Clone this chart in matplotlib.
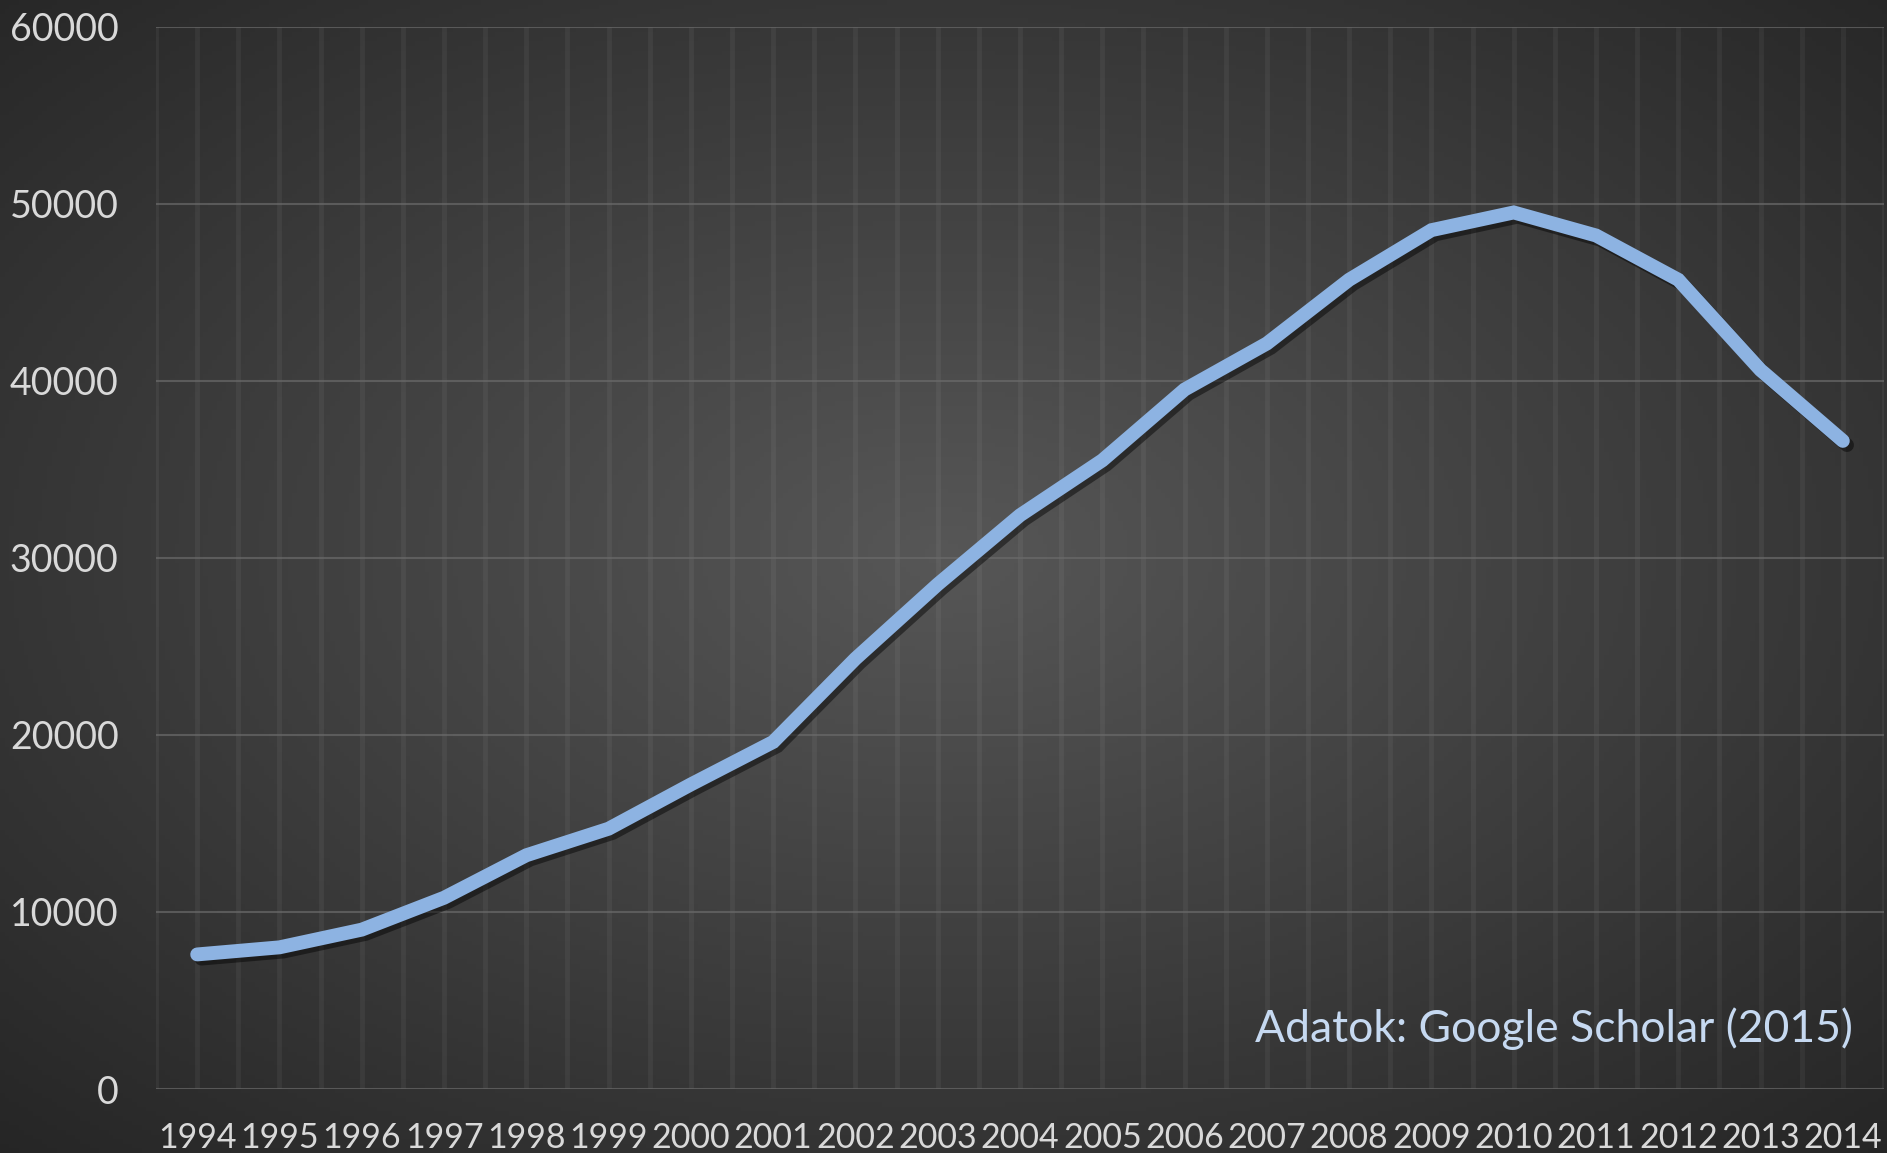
import matplotlib
matplotlib.use("Agg")
import matplotlib.pyplot as plt
import matplotlib.patheffects as pe
import numpy as np

years = [str(y) for y in range(1994, 2015)]
counts = [7600, 8000, 9000, 10800, 13200, 14700, 17200, 19600, 24300, 28500,
          32400, 35500, 39500, 42100, 45700, 48500, 49500, 48200, 45700, 40600, 36600]
yticks = [0, 10000, 20000, 30000, 40000, 50000, 60000]
source_note = "Adatok: Google Scholar (2015)"

plt.rcParams["font.family"] = ["Lato", "DejaVu Sans"]

fig = plt.figure(figsize=(18.87, 11.53), dpi=100)

# radial gradient background
bg = fig.add_axes([0, 0, 1, 1], zorder=0)
gx, gy = np.meshgrid(np.linspace(0, 1, 400), np.linspace(0, 1, 250))
r = np.sqrt(((gx - 0.5) / 0.75) ** 2 + ((gy - 0.48) / 0.75) ** 2)
shade = np.clip(0.34 - 0.2 * r, 0.14, 0.34)
bg.imshow(np.dstack([shade, shade, shade]), aspect="auto", extent=[0, 1, 0, 1])
bg.axis("off")

ax = fig.add_axes([0.0827, 0.0555, 0.9157, 0.9215], zorder=1)
ax.set_facecolor("none")
x = np.arange(len(years))

# faint vertical stripes at category centres and edges
for v in np.arange(-0.5, len(years), 0.5):
    ax.axvline(v, color="white", alpha=0.05, lw=3.5, zorder=1)
for t in yticks:
    ax.axhline(t, color="#6a6a6a", alpha=0.7, lw=1.5, zorder=1)

ax.plot(x, counts, color="#8db3e2", lw=10, solid_capstyle="round",
        solid_joinstyle="miter", zorder=3,
        path_effects=[pe.SimpleLineShadow(offset=(3, -3), shadow_color="black", alpha=0.45),
                      pe.Normal()])

ax.set_xlim(-0.5, len(years) - 0.5)
ax.set_ylim(0, 60000)
ax.set_xticks(x)
ax.set_xticklabels(years)
ax.set_yticks(yticks)
ax.set_yticklabels([str(t) for t in yticks])
ax.tick_params(length=0, colors="#d9d9d9")
ax.tick_params(axis="y", pad=27, labelsize=27)
ax.tick_params(axis="x", pad=24, labelsize=24.5)
for s in ax.spines.values():
    s.set_visible(False)

ax.text(0.982, 0.057, source_note, transform=ax.transAxes, ha="right", va="center",
        color="#c6d9f1", fontsize=32)

fig.savefig("out.png", dpi=100, facecolor="#2b2b2b")
